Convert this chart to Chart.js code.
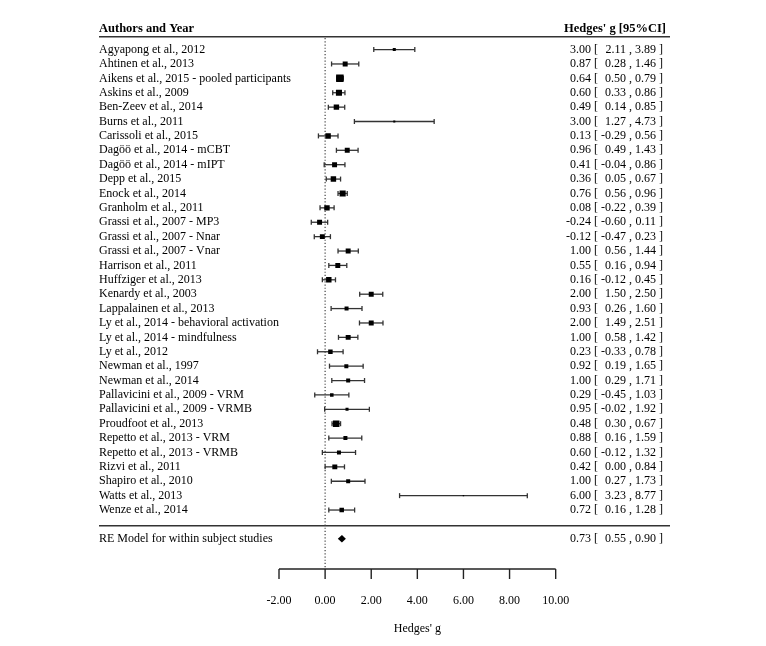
<!DOCTYPE html>
<html><head><meta charset="utf-8">
<script src="https://cdn.jsdelivr.net/npm/chart.js@4.4.1/dist/chart.umd.min.js"></script>
<style>html,body{margin:0;padding:0;background:#fff}canvas{display:block}</style>
</head><body>
<canvas id="c" width="766" height="646"></canvas>
<script>
const studies = [
  "Agyapong et al., 2012","Ahtinen et al., 2013","Aikens et al., 2015 - pooled participants","Askins et al., 2009",
  "Ben-Zeev et al., 2014","Burns et al., 2011","Carissoli et al., 2015","Dagöö et al., 2014 - mCBT",
  "Dagöö et al., 2014 - mIPT","Depp et al., 2015","Enock et al., 2014","Granholm et al., 2011",
  "Grassi et al., 2007 - MP3","Grassi et al., 2007 - Nnar","Grassi et al., 2007 - Vnar","Harrison et al., 2011",
  "Huffziger et al., 2013","Kenardy et al., 2003","Lappalainen et al., 2013","Ly et al., 2014 - behavioral activation",
  "Ly et al., 2014 - mindfulness","Ly et al., 2012","Newman et al., 1997","Newman et al., 2014",
  "Pallavicini et al., 2009 - VRM","Pallavicini et al., 2009 - VRMB","Proudfoot et al., 2013","Repetto et al., 2013 - VRM",
  "Repetto et al., 2013 - VRMB","Rizvi et al., 2011","Shapiro et al., 2010","Watts et al., 2013","Wenze et al., 2014"
];
const estimates = [3.00,0.87,0.64,0.60,0.49,3.00,0.13,0.96,0.41,0.36,0.76,0.08,-0.24,-0.12,1.00,0.55,0.16,2.00,0.93,2.00,1.00,0.23,0.92,1.00,0.29,0.95,0.48,0.88,0.60,0.42,1.00,6.00,0.72];
const lowerCI   = [2.11,0.28,0.50,0.33,0.14,1.27,-0.29,0.49,-0.04,0.05,0.56,-0.22,-0.60,-0.47,0.56,0.16,-0.12,1.50,0.26,1.49,0.58,-0.33,0.19,0.29,-0.45,-0.02,0.30,0.16,-0.12,0.00,0.27,3.23,0.16];
const upperCI   = [3.89,1.46,0.79,0.86,0.85,4.73,0.56,1.43,0.86,0.67,0.96,0.39,0.11,0.23,1.44,0.94,0.45,2.50,1.60,2.51,1.42,0.78,1.65,1.71,1.03,1.92,0.67,1.59,1.32,0.84,1.73,8.77,1.28];
const weights   = [1.9,3.1,4.7,3.8,3.4,1.3,3.4,3.1,3.1,3.4,3.8,3.4,3.1,3.1,3.1,3.1,3.4,3.1,2.5,3.1,3.1,2.8,2.5,2.5,2.2,1.9,4.1,2.5,2.5,3.1,2.5,0.9,2.8];
const summaryLabel = "RE Model for within subject studies";
const summaryValues = [0.73, 0.55, 0.90];
const xTicks = [-2,0,2,4,6,8,10];
const headerLeft = "Authors and Year";
const headerRight = "Hedges' g [95%CI]";
const xTitle = "Hedges' g";

const FONT = "'Liberation Serif','Times New Roman',serif";
const fmt = v => v.toFixed(2);

const forest = {
  id: 'forest',
  beforeDatasetsDraw(chart) {
    const ctx = chart.ctx, xs = chart.scales.x, ys = chart.scales.y;
    const X = v => xs.getPixelForValue(v), Y = v => ys.getPixelForValue(v);
    const L = 99, R = 670, textR = 663;
    const line = (x1,y1,x2,y2) => { ctx.beginPath(); ctx.moveTo(x1,y1); ctx.lineTo(x2,y2); ctx.stroke(); };
    ctx.save();
    ctx.textBaseline = 'middle';
    ctx.fillStyle = '#000';
    ctx.font = 'bold 12.5px ' + FONT;
    ctx.textAlign = 'left'; ctx.fillText(headerLeft, L, Y(-1.44));
    ctx.textAlign = 'right'; ctx.fillText(headerRight, 666, Y(-1.44));
    ctx.strokeStyle = '#333'; ctx.lineWidth = 1.5;
    line(L, Y(-0.9), R, Y(-0.9));
    line(L, Y(33.1), R, Y(33.1));
    ctx.setLineDash([1.2, 2]); ctx.lineWidth = 1.2; ctx.strokeStyle = '#444';
    line(X(0), Y(-0.8), X(0), Y(36.1));
    ctx.setLineDash([]);
    ctx.strokeStyle = '#333'; ctx.lineWidth = 1.3;
    for (let i = 0; i < studies.length; i++) {
      const y = Y(i), a = X(lowerCI[i]), b = X(upperCI[i]);
      line(a, y, b, y);
      line(a, y - 2.5, a, y + 2.5);
      line(b, y - 2.5, b, y + 2.5);
    }
    const ys0 = Y(34);
    ctx.fillStyle = '#000';
    ctx.beginPath();
    ctx.moveTo(X(summaryValues[1]), ys0);
    ctx.lineTo(X(summaryValues[0]), ys0 - 3.8);
    ctx.lineTo(X(summaryValues[2]), ys0);
    ctx.lineTo(X(summaryValues[0]), ys0 + 3.8);
    ctx.closePath(); ctx.fill();
    ctx.font = '12px ' + FONT;
    const w = s => ctx.measureText(s).width;
    const upR = textR - w(' ]');
    const commaR = upR - w('0.00') - w(' ');
    const loR = commaR - w(',') - w(' ');
    const brR = loR - w('-0.00') - w(' ');
    const estR = brR - w('[') - w(' ');
    const row = (label, e, lo, up, y) => {
      ctx.textAlign = 'left'; ctx.fillText(label, L, y);
      ctx.textAlign = 'right';
      ctx.fillText(fmt(e), estR, y);
      ctx.fillText('[', brR, y);
      ctx.fillText(fmt(lo), loR, y);
      ctx.fillText(',', commaR, y);
      ctx.fillText(fmt(up), upR, y);
      ctx.fillText(']', textR, y);
    };
    for (let i = 0; i < studies.length; i++) row(studies[i], estimates[i], lowerCI[i], upperCI[i], Y(i));
    row(summaryLabel, summaryValues[0], summaryValues[1], summaryValues[2], ys0);
    const ax = Y(36.1);
    ctx.strokeStyle = '#222'; ctx.lineWidth = 1.4;
    line(X(xTicks[0]), ax, X(xTicks[xTicks.length - 1]), ax);
    ctx.textAlign = 'center';
    for (const t of xTicks) {
      line(X(t), ax, X(t), ax + 10);
      ctx.fillText(t.toFixed(2), X(t), Y(38.28));
    }
    ctx.fillText(xTitle, (X(xTicks[0]) + X(xTicks[xTicks.length - 1])) / 2, Y(40.26));
    ctx.restore();
  }
};

new Chart(document.getElementById('c'), {
  type: 'scatter',
  data: {
    datasets: [{
      data: estimates.map((e, i) => ({ x: e, y: i })),
      pointStyle: 'rect',
      pointRadius: weights.map(v => v * 1.6 / Math.SQRT2),
      backgroundColor: '#000',
      borderColor: '#000',
      borderWidth: 0
    }]
  },
  options: {
    responsive: false,
    animation: false,
    layout: { padding: 0 },
    plugins: { legend: { display: false }, tooltip: { enabled: false } },
    scales: {
      x: { type: 'linear', display: false, min: -324.3 / 23.38, max: (766 - 324.3) / 23.38 },
      y: { type: 'linear', display: false, reverse: true, min: -45 / 14.63, max: (646 - 45) / 14.63 }
    }
  },
  plugins: [forest]
});
</script>
</body></html>
